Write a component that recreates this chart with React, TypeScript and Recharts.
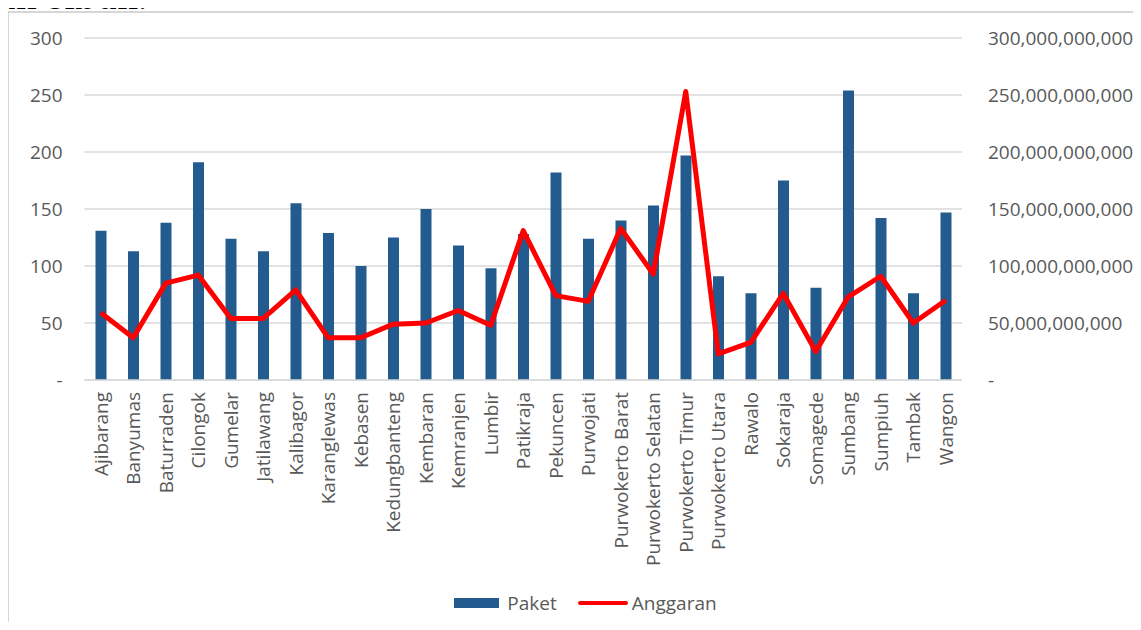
import { Bar, CartesianGrid, ComposedChart, Legend, Line, XAxis, YAxis } from "recharts";

const kecamatan = [
    "Ajibarang", "Banyumas", "Baturraden", "Cilongok", "Gumelar", "Jatilawang", "Kalibagor",
    "Karanglewas", "Kebasen", "Kedungbanteng", "Kembaran", "Kemranjen", "Lumbir", "Patikraja",
    "Pekuncen", "Purwojati", "Purwokerto Barat", "Purwokerto Selatan", "Purwokerto Timur",
    "Purwokerto Utara", "Rawalo", "Sokaraja", "Somagede", "Sumbang", "Sumpiuh", "Tambak", "Wangon",
];

const paket = [
    131, 113, 138, 191, 124, 113, 155, 129, 100, 125, 150, 118, 98, 128,
    182, 124, 140, 153, 197, 91, 76, 175, 81, 254, 142, 76, 147,
];

const anggaran = [
    59e9, 37e9, 85e9, 92e9, 54e9, 54e9, 79e9, 37e9, 37e9, 49e9, 50e9, 61e9, 48e9, 131e9,
    74e9, 69e9, 133e9, 93e9, 253e9, 23e9, 33e9, 76e9, 25e9, 73e9, 91e9, 50e9, 70e9,
];

const paketTicks = [0, 50, 100, 150, 200, 250, 300];
const anggaranTicks = [0, 50e9, 100e9, 150e9, 200e9, 250e9, 300e9];

const data = kecamatan.map((nama, i) => ({
    nama,
    paket: paket[i],
    anggaran: anggaran[i],
}));

const FONT = "'Open Sans', sans-serif";
const TEXT = "#595959";
const BIRU = "#235B8E";

const angka = (v: number) => (v === 0 ? "-" : v.toLocaleString("en-US"));

function TickKategori({ x, y, payload }: any) {
    return (
        <g transform={`translate(${x},${y})`}>
            <text transform="rotate(-90)" textAnchor="end" dy="0.36em" fill={TEXT} fontSize={19} fontFamily={FONT}>
                {payload.value}
            </text>
        </g>
    );
}

function Keterangan() {
    return (
        <div style={{ height: 40, display: "flex", justifyContent: "center", alignItems: "center", paddingLeft: 16, fontFamily: FONT, fontSize: 19, color: TEXT }}>
            <span style={{ display: "inline-block", width: 45, height: 10, background: BIRU, marginRight: 8, marginLeft: 14 }} />
            <span>Paket</span>
            <span style={{ display: "inline-block", width: 50, height: 4, borderRadius: 2, background: "#FF0000", marginLeft: 21, marginRight: 4 }} />
            <span>Anggaran</span>
        </div>
    );
}

export default function App() {
    return (
        <div style={{ position: "relative", margin: -8, width: 1141, height: 630, overflow: "hidden", background: "#fff" }}>
            <div style={{ position: "absolute", left: 7, top: 11, width: 1200, height: 700, border: "2px solid #d6d6d6", boxSizing: "border-box" }} />
            <div style={{ position: "absolute", left: 0, top: 0 }}>
                <ComposedChart width={1141} height={630} data={data} margin={{ top: 38, right: 0, bottom: 7, left: 0 }}>
                    <CartesianGrid yAxisId="kiri" vertical={false} stroke="#d9d9d9" strokeWidth={1.5} />
                    <XAxis
                        dataKey="nama"
                        interval={0}
                        height={203}
                        tickSize={0}
                        tickMargin={12}
                        tick={<TickKategori />}
                        axisLine={{ stroke: "#d9d9d9", strokeWidth: 1.5 }}
                        tickLine={false}
                    />
                    <YAxis
                        yAxisId="kiri"
                        orientation="left"
                        width={84.5}
                        domain={[0, 300]}
                        ticks={paketTicks}
                        tickFormatter={angka}
                        axisLine={false}
                        tickLine={false}
                        tickSize={0}
                        tickMargin={22}
                        tick={{ fill: TEXT, fontSize: 19, fontFamily: FONT }}
                    />
                    <YAxis
                        yAxisId="kanan"
                        orientation="right"
                        width={179}
                        domain={[0, 300e9]}
                        ticks={anggaranTicks}
                        tickFormatter={angka}
                        axisLine={false}
                        tickLine={false}
                        tickSize={0}
                        tickMargin={26}
                        tick={{ fill: TEXT, fontSize: 19, fontFamily: FONT }}
                    />
                    <Legend verticalAlign="bottom" content={<Keterangan />} />
                    <Bar yAxisId="kiri" dataKey="paket" name="Paket" fill={BIRU} barSize={11} isAnimationActive={false} />
                    <Line
                        yAxisId="kanan"
                        dataKey="anggaran"
                        name="Anggaran"
                        stroke="#FF0000"
                        strokeWidth={5}
                        strokeLinejoin="round"
                        dot={false}
                        activeDot={false}
                        isAnimationActive={false}
                    />
                </ComposedChart>
            </div>
            <svg width={300} height={14} style={{ position: "absolute", left: 0, top: 0, zIndex: 2, overflow: "visible" }}>
                <text x={-4} y={9} fontFamily="'DejaVu Serif', serif" fontSize={33} fill="#000">
                    an sibuk.
                </text>
            </svg>
        </div>
    );
}
